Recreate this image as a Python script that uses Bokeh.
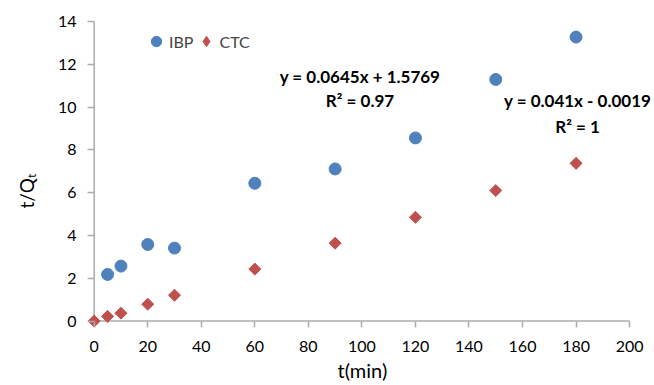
import math
from bokeh.plotting import figure
from bokeh.models import Range1d, FixedTicker, Legend, LegendItem, ColumnDataSource, Title
from bokeh.core.properties import value
from bokeh.embed import file_html
from bokeh.resources import INLINE

# ---- data ----
ibp_time = [5, 10, 20, 30, 60, 90, 120, 150, 180]
ibp_t_qt = [2.18, 2.57, 3.58, 3.41, 6.44, 7.11, 8.56, 11.29, 13.27]
ctc_time = [0, 5, 10, 20, 30, 60, 90, 120, 150, 180]
ctc_t_qt = [0.0, 0.22, 0.37, 0.79, 1.21, 2.43, 3.64, 4.85, 6.10, 7.37]
x_ticks = [0, 20, 40, 60, 80, 100, 120, 140, 160, 180, 200]
y_ticks = [0, 2, 4, 6, 8, 10, 12, 14]
series_names = ["IBP", "CTC"]
x_title = "t(min)"
y_title = "t/Q\u209c"
ibp_eq = ["y = 0.0645x + 1.5769", "R\u00b2 = 0.97"]
ctc_eq = ["y = 0.041x - 0.0019", "R\u00b2 = 1"]

FONT = "Lato"
AXIS_GRAY = "#ABABAB"
BLUE = "#4F81BD"
RED = "#C0504D"

p = figure(width=654, height=385,
           x_range=Range1d(-2.5, 209.3), y_range=Range1d(-0.3, 14.0),
           output_backend="svg", toolbar_location=None,
           min_border_left=86, min_border_right=0,
           min_border_top=21, min_border_bottom=58)
p.outline_line_color = None
p.xgrid.visible = False
p.ygrid.visible = False
p.background_fill_color = "white"
p.border_fill_color = "white"

for ax, ticks in ((p.xaxis[0], x_ticks), (p.yaxis[0], y_ticks)):
    ax.ticker = FixedTicker(ticks=ticks)
    ax.axis_line_color = None
    ax.major_tick_line_color = AXIS_GRAY
    ax.major_tick_line_width = 1.5
    ax.major_tick_out = 0
    ax.minor_tick_line_color = None
    ax.major_label_text_font = FONT
    ax.major_label_text_font_size = "16px"
    ax.major_label_text_color = "#000000"

p.xaxis.major_tick_in = 6
p.yaxis.major_tick_in = 7
p.xaxis.major_label_standoff = 13
p.yaxis.major_label_standoff = 11

# axis titles (as side titles so they can be placed off-centre like the reference)
p.add_layout(Title(text=x_title, align="left", offset=250, standoff=2,
                   vertical_align="bottom", text_font=FONT, text_font_size="20px",
                   text_font_style="normal", text_color="#000000"), "below")
p.add_layout(Title(text=y_title, align="left", offset=119, standoff=29,
                   vertical_align="top", text_font=FONT, text_font_size="19px",
                   text_font_style="normal", text_color="#000000"), "left")

# axis lines through the origin
p.segment(x0=[x_ticks[0], x_ticks[0]], y0=[y_ticks[0], y_ticks[0]],
          x1=[x_ticks[-1], x_ticks[0]], y1=[y_ticks[0], y_ticks[-1]],
          line_color=AXIS_GRAY, line_width=1.5)

src_ibp = ColumnDataSource(dict(x=ibp_time, y=ibp_t_qt))
src_ctc = ColumnDataSource(dict(x=ctc_time, y=ctc_t_qt))
r_ibp = p.scatter("x", "y", source=src_ibp, marker="circle", size=12,
                  fill_color=BLUE, line_color=BLUE)
r_ctc = p.scatter("x", "y", source=src_ctc, marker="square", size=8.5,
                  angle=math.pi / 4, fill_color=RED, line_color=RED)
# legend-only proxy (not drawn in the plot) so the legend shows a diamond
r_ctc_leg = p.scatter(x=[float("nan")], y=[float("nan")], marker="diamond", size=14,
                      fill_color=RED, line_color=RED)

legend = Legend(items=[LegendItem(label=series_names[0], renderers=[r_ibp]),
                       LegendItem(label=series_names[1], renderers=[r_ctc_leg])],
                orientation="horizontal", location=(56, 273),
                glyph_width=26, glyph_height=26, label_standoff=-2,
                spacing=-2, padding=0, margin=0,
                label_text_font=FONT, label_text_font_size="16px",
                border_line_color=None, background_fill_alpha=0)
p.add_layout(legend)

eq_src = ColumnDataSource(dict(
    x=[99.3, 99.3, 180.6, 180.6],
    y=[11.42, 10.3, 10.3, 9.09],
    t=ibp_eq + ctc_eq))
p.text("x", "y", text="t", source=eq_src, text_font=value(FONT),
       text_font_style="bold", text_font_size="17px", text_color="#000000",
       text_align="center", text_baseline="middle")

open("out.html", "w").write(file_html(p, INLINE))
